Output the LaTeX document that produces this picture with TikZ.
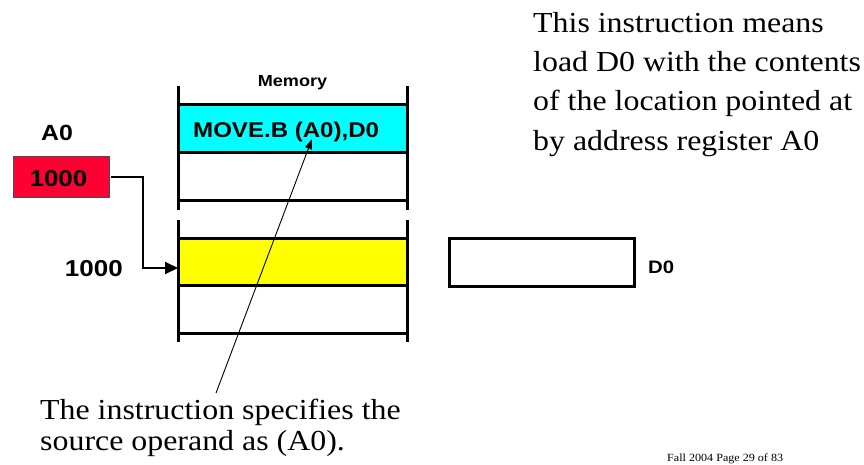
\documentclass[tikz,border=0pt]{standalone}
\usepackage{fontspec}
\setmainfont{Liberation Serif}[FakeStretch=1.1]
\newfontfamily\lblfont{Liberation Sans Bold}[FakeStretch=1.13]
\usetikzlibrary{arrows.meta}
\definecolor{regred}{RGB}{255,0,51}
\definecolor{cellcyan}{RGB}{0,255,255}
\definecolor{cellyellow}{RGB}{255,255,0}
\tikzset{
  cell/.style={minimum width=229pt, minimum height=47pt, inner sep=0pt, outer sep=0pt},
  memline/.style={line width=3pt},
  lbl/.style={font=\lblfont\fontsize{21.3}{25}\selectfont, inner sep=0pt},
  numlbl/.style={font=\lblfont\fontsize{23}{27}\selectfont, inner sep=0pt},
  smalllbl/.style={font=\lblfont\fontsize{16}{19}\selectfont, inner sep=0pt},
  prose/.style={font=\fontsize{29}{35}\selectfont, inner sep=0pt, anchor=base west},
  conn/.style={line width=2pt, -{Triangle[length=13pt,width=12pt]}},
  ptr/.style={line width=0.9pt, -{Triangle[length=10pt,width=7pt]}}
}
\begin{document}
\begin{tikzpicture}[x=1pt,y=-1pt]
\useasboundingbox (0,0) rectangle (864,464);

% memory: upper section with the instruction word
\node[cell, fill=cellcyan] (instr) at (292.5,128) {};
\node[lbl, anchor=base west] (instrtxt) at (193,137) {MOVE.B (A0),D0};
\draw[memline] (178,86) -- (178,210) (407,86) -- (407,210);
\draw[memline] (178,104) -- (407,104) (178,152) -- (407,152) (178,200) -- (407,200);
\node[smalllbl, anchor=base] (memtitle) at (292.5,86) {Memory};

% memory: lower section with the operand at address 1000
\node[cell, fill=cellyellow] (operand) at (292.5,261.5) {};
\draw[memline] (178,220) -- (178,342) (407,220) -- (407,342);
\draw[memline] (178,238) -- (407,238) (178,285) -- (407,285) (178,333) -- (407,333);
\node[numlbl, anchor=base east] (addr) at (123,276) {1000};

% address register A0
\node[draw=black!70, line width=0.8pt, fill=regred, minimum width=96pt, minimum height=41pt, inner sep=0pt] (a0box) at (61,176.5) {};
\node[numlbl, anchor=base] (a0val) at (58.5,186) {1000};
\node[lbl, font=\lblfont\fontsize{22}{26}\selectfont, anchor=base] (a0name) at (57,140) {A0};

% data register D0
\node[draw, line width=3pt, minimum width=185pt, minimum height=48pt, inner sep=0pt] (d0box) at (541.5,262) {};
\node[smalllbl, font=\lblfont\fontsize{18}{21}\selectfont, anchor=base west] (d0name) at (648,273) {D0};

% A0 points at the operand
\coordinate (bend) at (143,268);
\draw[conn] ([xshift=2pt]a0box.east) -| (bend) -- (operand.west |- bend);

% pointer from the note to the source operand
\coordinate (ptrtip) at (312,139);
\coordinate (ptrfoot) at (216,393);
\draw[ptr] (ptrfoot) -- (ptrtip);

% explanatory text
\node[prose] (n1) at (533,32) {This instruction means};
\node[prose] (n2) at (533,71.5) {load D0 with the contents};
\node[prose] (n3) at (533,110.5) {of the location pointed at};
\node[prose] (n4) at (533,150) {by address register A0};
\node[prose] (s1) at (40,419) {The instruction specifies the};
\node[prose] (s2) at (40,450) {source operand as (A0).};
\node[anchor=base west, inner sep=0pt, font=\fontsize{11}{13}\selectfont] (foot) at (667,461.5) {Fall 2004 Page 29 of 83};
\end{tikzpicture}
\end{document}
